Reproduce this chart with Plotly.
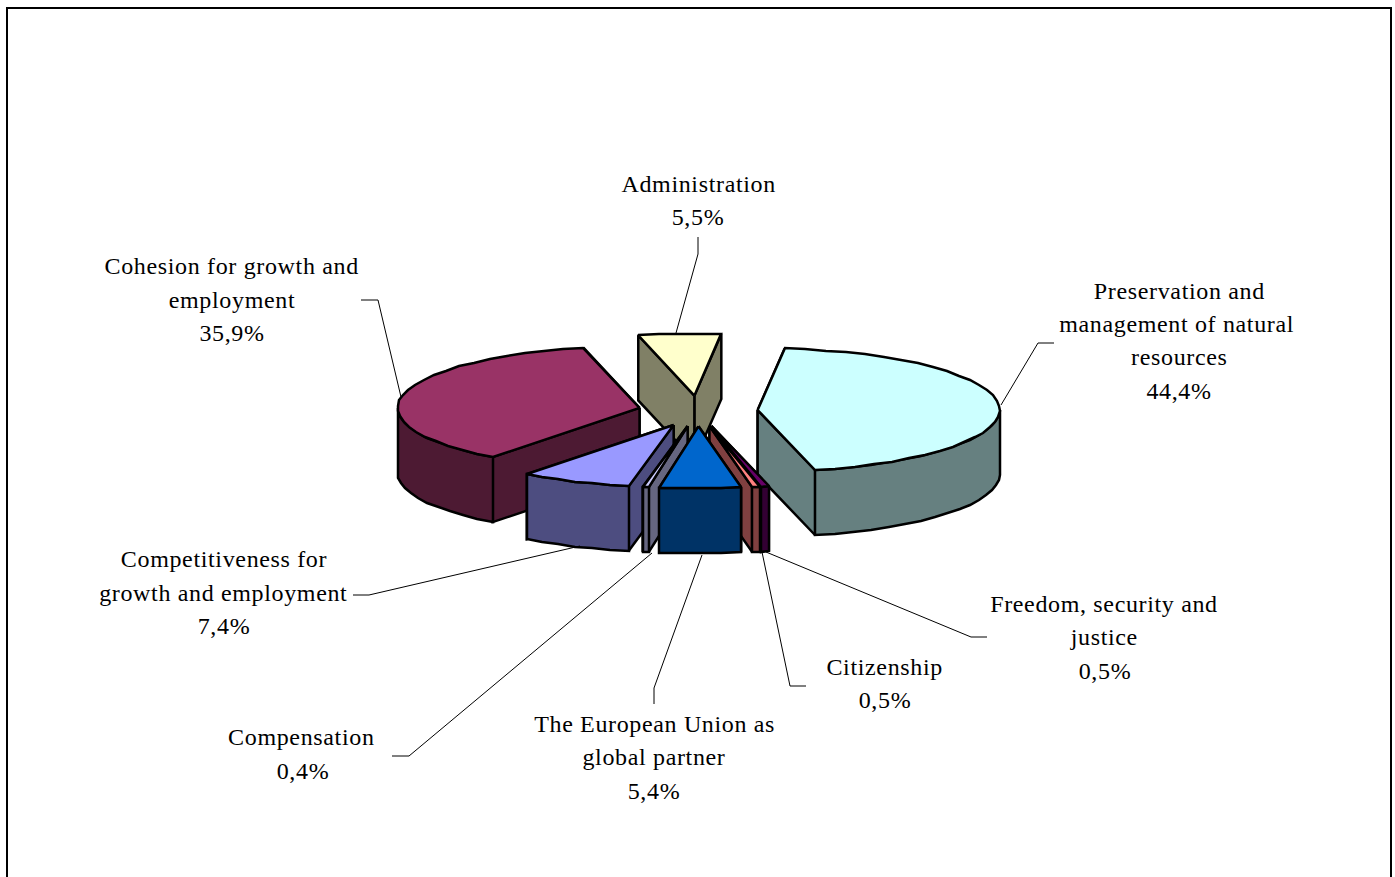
import numpy as np
import plotly.graph_objects as go

# ---------- data ----------
categories = ["Preservation and management of natural resources", "Freedom, security and justice",
              "Citizenship", "The European Union as global partner", "Compensation",
              "Competitiveness for growth and employment", "Cohesion for growth and employment", "Administration"]
shares = [44.4, 0.5, 0.5, 5.4, 0.4, 7.4, 35.9, 5.5]
top_colors = ["#CCFFFF", "#660066", "#FF8080", "#0066CC", "#CCCCFF", "#9999FF", "#993366", "#FFFFCC"]
side_colors = ["#668080", "#330033", "#804040", "#003366", "#666680", "#4D4D80", "#4D1A33", "#808066"]

# label text lines: (text, centre x, centre y)
label_lines = [
    ("Administration", 698, 184), ("5,5%", 698, 217),
    ("Preservation and", 1179, 291), ("management of natural", 1177, 324), ("resources", 1179, 357), ("44,4%", 1179, 391),
    ("Cohesion for growth and", 231, 266), ("employment", 232, 300), ("35,9%", 232, 333),
    ("Competitiveness for", 224, 559), ("growth and employment", 223, 593), ("7,4%", 224, 626),
    ("Compensation", 301, 737), ("0,4%", 303, 771),
    ("The European Union as", 654, 724), ("global partner", 654, 757), ("5,4%", 654, 791),
    ("Citizenship", 884, 667), ("0,5%", 885, 700),
    ("Freedom, security and", 1104, 604), ("justice", 1104, 637), ("0,5%", 1105, 671),
]
leader_lines = [
    [(676, 333), (698, 254), (698, 237)],
    [(1001, 405), (1038, 343), (1054, 343)],
    [(401, 397), (378, 300), (361, 300)],
    [(353, 595), (369, 595), (580, 546)],
    [(652, 553), (409, 756), (392, 756)],
    [(702, 555), (654, 688), (654, 704)],
    [(762, 552), (790, 686), (806, 686)],
    [(766, 552), (971, 637), (987, 637)],
]

# ---------- pie geometry ----------
CX, CY = 698.0, 411.0
RX, RY = 242.0, 62.0
DEPTH = 65.0
EXPLODE = 0.247
START = 6.4
STEP = 5.0

fractions = np.array(shares) / sum(shares)
edges = START + np.concatenate([[0], np.cumsum(fractions)]) * 360.0


def pt(theta_deg, ox, oy, r=1.0):
    t = np.radians(theta_deg)
    return ox + r * RX * np.sin(t), oy - r * RY * np.cos(t)


def arc(a, b, ox, oy):
    n = max(1, int(np.ceil((b - a) / STEP)))
    ths = np.linspace(a, b, n + 1)
    xs, ys = pt(ths, ox, oy)
    return np.round(xs), np.round(ys)


fig = go.Figure()


def face(xs, ys, color):
    fig.add_trace(go.Scatter(x=list(xs) + [xs[0]], y=list(ys) + [ys[0]], mode="lines", fill="toself",
                             fillcolor=color, line=dict(color="black", width=2.5), hoverinfo="skip",
                             showlegend=False))


mids = (edges[:-1] + edges[1:]) / 2
# painter's order: back slices first, the slice nearest the viewer last
order = sorted(range(len(shares)), key=lambda i: np.cos(np.radians(mids[i])), reverse=True)
for i in order:
    a, b, m = edges[i], edges[i + 1], mids[i]
    ox, oy = pt(m, CX, CY, EXPLODE)
    for th in sorted([a, b], key=lambda v: np.cos(np.radians(v)), reverse=True):
        ex, ey = pt(th, ox, oy)
        face([ox, ex, ex, ox], [oy, ey, ey + DEPTH, oy + DEPTH], side_colors[i])
    # curved outer wall: only the front half of the rim (90..270 degrees)
    la, lb = max(a, 90.0), min(b, 270.0)
    if lb > la:
        xs, ys = arc(la, lb, ox, oy)
        face(list(xs) + list(xs[::-1]), list(ys) + list(ys[::-1] + DEPTH), side_colors[i])
    xs, ys = arc(a, b, ox, oy)
    face([ox] + list(xs), [oy] + list(ys), top_colors[i])

shapes = [dict(type="path", path="M7,900 L7,8 L1391,8 L1391,900", line=dict(color="black", width=2), layer="below")]
for seg in leader_lines:
    path = "M" + " L".join(f"{x},{y}" for x, y in seg)
    shapes.append(dict(type="path", path=path, line=dict(color="black", width=1)))

annotations = [dict(x=x, y=y, text=t, showarrow=False, xanchor="center", yanchor="middle",
                    font=dict(family="Liberation Serif", size=24, color="black"))
               for t, x, y in label_lines]

fig.update_layout(
    width=1395, height=877, margin=dict(l=0, r=0, t=0, b=0), paper_bgcolor="white", plot_bgcolor="white",
    xaxis=dict(range=[0, 1395], visible=False, fixedrange=True),
    yaxis=dict(range=[877, 0], visible=False, fixedrange=True),
    shapes=shapes, annotations=annotations, showlegend=False,
)
post = """
document.body.style.margin='0';
document.querySelectorAll('.annotation-text').forEach(function(t){t.style.letterSpacing='0.65px';});
"""
fig.write_html("out.html", post_script=post, config={"displayModeBar": False})
